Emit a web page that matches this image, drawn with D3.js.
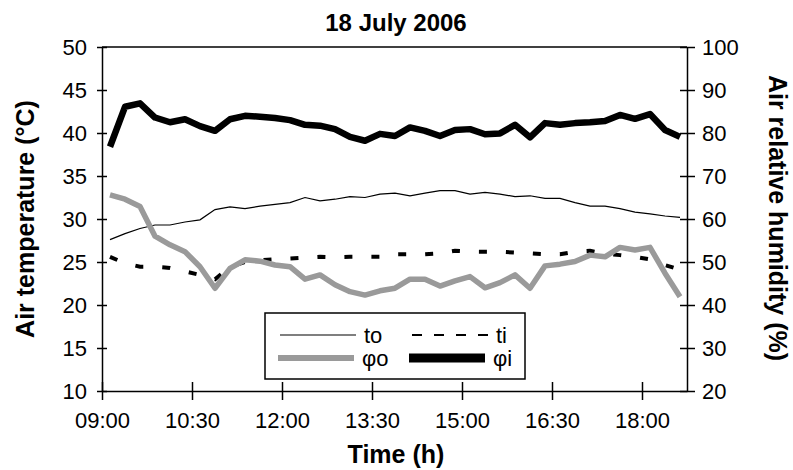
<!DOCTYPE html>
<html>
<head>
<meta charset="utf-8">
<script src="https://cdn.jsdelivr.net/npm/d3@7"></script>
<style>
  body { margin: 0; background: #fff; }
  text { font-family: "Liberation Sans", Arial, sans-serif; fill: #000; }
</style>
</head>
<body>
<div id="main"></div>
<script>
// readings every 15 min
var times = ["09:08","09:23","09:38","09:53","10:08","10:23","10:38","10:53","11:08","11:23",
  "11:38","11:53","12:08","12:23","12:38","12:53","13:08","13:23","13:38","13:53",
  "14:08","14:23","14:38","14:53","15:08","15:23","15:38","15:53","16:08","16:23",
  "16:38","16:53","17:08","17:23","17:38","17:53","18:08","18:23","18:38"];

// air temperature (°C)
var to = [27.6,28.3,28.9,29.3,29.3,29.65,29.9,31.1,31.4,31.2,31.5,31.7,31.9,32.5,32.1,32.3,32.6,32.5,32.9,
  33.0,32.7,33.0,33.3,33.3,32.9,33.1,32.9,32.6,32.7,32.4,32.4,31.9,31.5,31.5,31.2,30.8,30.6,30.35,30.2];
var ti = [25.6,24.85,24.45,24.45,24.3,23.9,23.5,23.0,24.45,25.0,25.2,25.3,25.4,25.5,25.6,25.55,25.6,25.6,25.6,
  25.9,25.9,25.9,26.0,26.3,26.2,26.2,26.2,26.1,26.0,25.9,25.9,26.2,26.3,25.95,25.8,25.6,25.3,24.65,24.1];

// relative humidity (%)
var phiO = [65.6,64.6,62.9,56.0,54.0,52.4,48.9,43.9,48.5,50.5,50.2,49.3,48.9,46.0,47.0,44.7,43.1,42.3,43.3,
  43.9,46.0,46.0,44.4,45.6,46.6,44.0,45.2,47.0,43.9,49.1,49.5,50.1,51.6,51.2,53.4,52.8,53.4,47.4,41.9];
var phiI = [76.8,86.1,86.9,83.6,82.5,83.2,81.6,80.5,83.2,84.0,83.8,83.5,83.0,81.9,81.7,80.9,79.1,78.2,79.8,
  79.3,81.3,80.5,79.3,80.7,80.9,79.7,79.9,81.9,79.0,82.3,81.9,82.3,82.5,82.8,84.2,83.3,84.4,80.7,79.1];

var xTicks = ["09:00","10:30","12:00","13:30","15:00","16:30","18:00"];
var tempTicks = [10,15,20,25,30,35,40,45,50];
var rhTicks = [20,30,40,50,60,70,80,90,100];

var W = 793, H = 470;
var m = {left: 102, right: 106, top: 47, bottom: 79};
var parse = d3.timeParse("%H:%M");

var svg = d3.select('#main').append('svg').attr('width', W).attr('height', H);

var x = d3.scaleTime()
  .domain([parse("09:00"), parse("18:45")])
  .range([m.left, W - m.right]);
var yT = d3.scaleLinear().domain([10, 50]).range([H - m.bottom, m.top]);
var yH = d3.scaleLinear().domain([20, 100]).range([H - m.bottom, m.top]);

var pts = times.map(function(t, i) {
  return {t: parse(t), to: to[i], ti: ti[i], po: phiO[i], pi: phiI[i]};
});

// frame top line
svg.append('line')
  .attr('x1', m.left).attr('x2', W - m.right)
  .attr('y1', m.top).attr('y2', m.top)
  .attr('stroke', '#000').attr('stroke-width', 1.5);

function lineOf(key, scale) {
  return d3.line().x(function(d) { return x(d.t); }).y(function(d) { return scale(d[key]); });
}

var g = svg.append('g');
g.append('path').datum(pts).attr('d', lineOf('to', yT))
  .attr('fill', 'none').attr('stroke', '#000').attr('stroke-width', 1.2);
g.append('path').datum(pts).attr('d', lineOf('ti', yT))
  .attr('fill', 'none').attr('stroke', '#000').attr('stroke-width', 4)
  .attr('stroke-dasharray', '8 19');
g.append('path').datum(pts).attr('d', lineOf('po', yH))
  .attr('fill', 'none').attr('stroke', '#9a9a9a').attr('stroke-width', 5.5)
  .attr('stroke-linejoin', 'round');
g.append('path').datum(pts).attr('d', lineOf('pi', yH))
  .attr('fill', 'none').attr('stroke', '#000').attr('stroke-width', 6.5)
  .attr('stroke-linejoin', 'round');

// axes
var fmt = d3.timeFormat("%H:%M");
var xAxis = svg.append('g').attr('transform', 'translate(0,' + (H - m.bottom) + ')')
  .call(d3.axisBottom(x).tickValues(xTicks.map(parse)).tickFormat(fmt).tickSize(9).tickPadding(12).tickSizeOuter(0));
xAxis.selectAll('.tick line').attr('y1', -9);

var lAxis = svg.append('g').attr('transform', 'translate(' + m.left + ',0)')
  .call(d3.axisLeft(yT).tickValues(tempTicks).tickSize(5).tickPadding(10).tickSizeOuter(0));
lAxis.selectAll('.tick line').attr('x2', 5).attr('x1', -5);

var rAxis = svg.append('g').attr('transform', 'translate(' + (W - m.right) + ',0)')
  .call(d3.axisRight(yH).tickValues(rhTicks).tickSize(8).tickPadding(7).tickSizeOuter(0));
rAxis.selectAll('.tick line').attr('x1', -7);

svg.selectAll('.domain, .tick line').attr('stroke', '#000').attr('stroke-width', 1.5);
svg.selectAll('.tick text').style('font-size', '22px').attr('fill', '#000')
  .style('font-family', '"Liberation Sans", Arial, sans-serif');

// titles
svg.append('text').attr('x', 396).attr('y', 31).attr('text-anchor', 'middle')
  .style('font-size', '24px').style('font-weight', 'bold').text('18 July 2006');
svg.append('text').attr('x', 396).attr('y', 463).attr('text-anchor', 'middle')
  .style('font-size', '25px').style('font-weight', 'bold').text('Time (h)');
svg.append('text').attr('transform', 'translate(34,219) rotate(-90)').attr('text-anchor', 'middle')
  .style('font-size', '25px').style('font-weight', 'bold').text('Air temperature (°C)');
svg.append('text').attr('transform', 'translate(769,218) rotate(90)').attr('text-anchor', 'middle')
  .style('font-size', '25px').style('font-weight', 'bold').text('Air relative humidity (%)');

// legend
var lg = svg.append('g');
lg.append('rect').attr('x', 265).attr('y', 313).attr('width', 260).attr('height', 66)
  .attr('fill', '#fff').attr('stroke', '#000').attr('stroke-width', 1.5);
var items = [
  {label: 'to', x: 280, y: 335, color: '#000', w: 1.2, dash: null},
  {label: 'ti', x: 412, y: 335, color: '#000', w: 2, dash: '10 12'},
  {label: 'φo', x: 278, y: 358, color: '#9a9a9a', w: 6, dash: null},
  {label: 'φi', x: 409, y: 358, color: '#000', w: 9, dash: null}
];
items.forEach(function(it) {
  lg.append('line').attr('x1', it.x).attr('x2', it.x + 76).attr('y1', it.y).attr('y2', it.y)
    .attr('stroke', it.color).attr('stroke-width', it.w)
    .attr('stroke-dasharray', it.dash);
  lg.append('text').attr('x', it.x + 84).attr('y', it.y + 8)
    .style('font-size', '22px').text(it.label);
});
</script>
</body>
</html>
